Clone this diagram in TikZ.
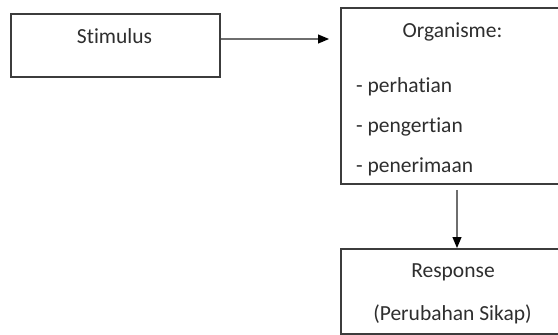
\documentclass[tikz,border=0pt]{standalone}
\usepackage{fontspec}
\setmainfont[Ligatures = NoCommon]{Carlito}
\usetikzlibrary{arrows.meta}
\definecolor{boxline}{HTML}{3C3C3C}
\definecolor{arrowline}{HTML}{6E6E6E}
\definecolor{textgray}{HTML}{2E2E2E}
\tikzset{
    box/.style = {draw = boxline, line width = 1.8pt, inner sep = 0pt, anchor = north west},
    label/.style = {text = textgray, inner sep = 0pt, anchor = base, font = \fontsize{21.5}{25}\selectfont},
    item/.style = {label, anchor = base west},
    link/.style = {draw = arrowline, line width = 1.2pt, -{Triangle[length = 11pt, width = 9pt, color = black]}}
}
\begin{document}
\begin{tikzpicture}[x = 1pt, y = -1pt]
    \useasboundingbox (0, 0) rectangle (558, 335);
    \clip (0, 0) rectangle (558, 335);
    % boxes
    \node[box, minimum width = 209pt, minimum height = 63pt] (stimulus) at (10, 13) {};
    \node[box, minimum width = 230pt, minimum height = 176pt] (organisme) at (340, 7) {};
    \node[box, minimum width = 230pt, minimum height = 85pt] (response) at (340, 248) {};
    % texts
    \node[label] (stimtitle) at (114.5, 43.5) {Stimulus};
    \node[label] (orgtitle) at (452.5, 37) {Organisme:};
    \node[item] (perhatian) at (356, 92) {- perhatian};
    \node[item] (pengertian) at (356, 132) {- pengertian};
    \node[item] (penerimaan) at (356, 172) {- penerimaan};
    \node[label] (resptitle) at (453, 277) {Response};
    \node[label] (respsub) at (452.5, 320.5) {(Perubahan Sikap)};
    % arrows
    \coordinate (arrowrow) at (0, 39);
    \coordinate (arrowcol) at (457, 0);
    \draw[link, shorten > = 11pt] (stimulus.east |- arrowrow) -- (organisme.west |- arrowrow);
    \draw[link, shorten < = 5pt] (organisme.south -| arrowcol) -- (response.north -| arrowcol);
\end{tikzpicture}
\end{document}
